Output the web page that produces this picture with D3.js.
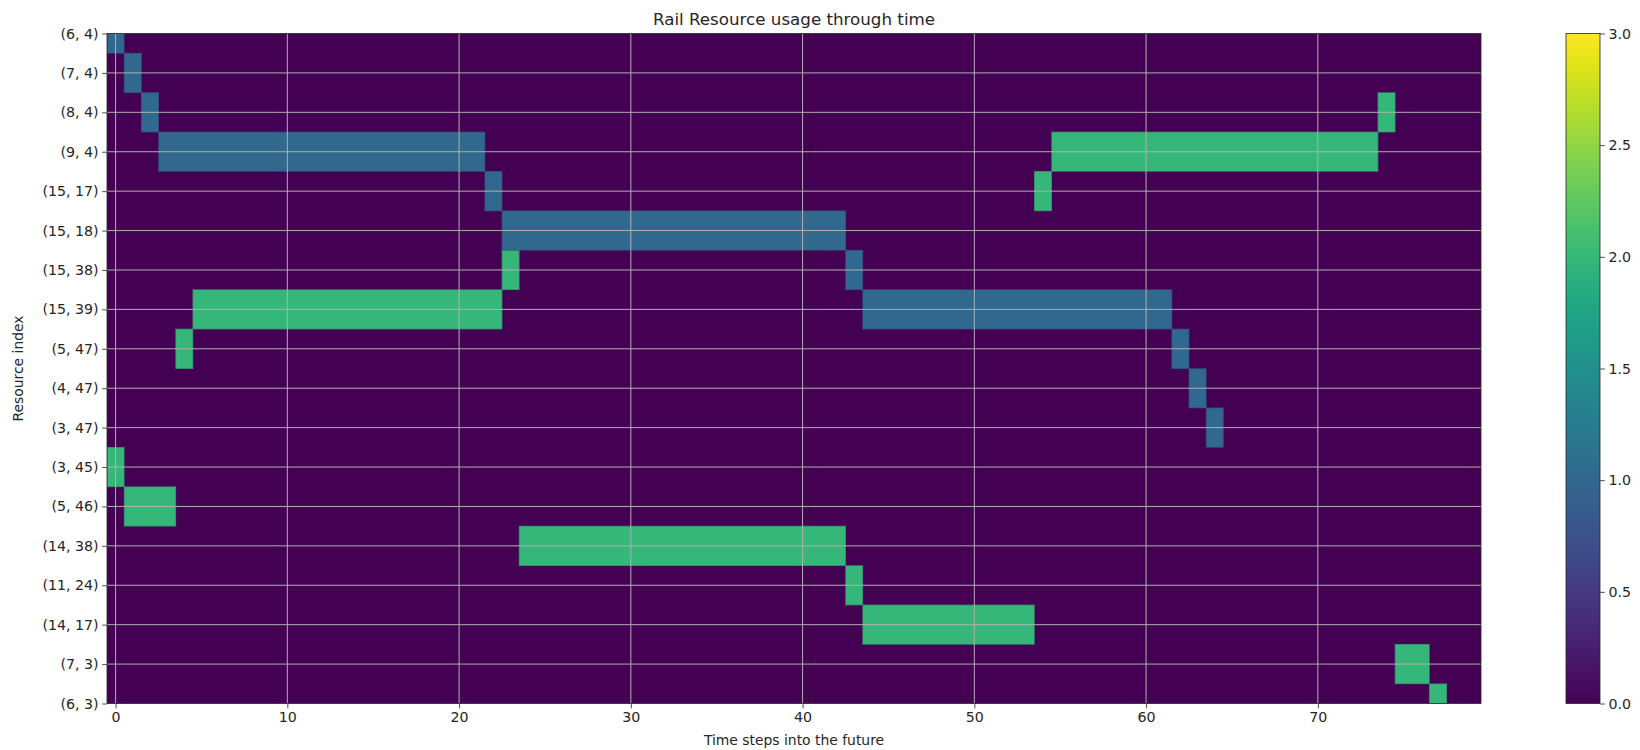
<!DOCTYPE html>
<html>
<head>
<meta charset="utf-8">
<script src="https://cdn.jsdelivr.net/npm/d3@7"></script>
<style>
  html, body { margin: 0; padding: 0; background: #ffffff; }
  svg { display: block; font-family: "DejaVu Sans", sans-serif; }
</style>
</head>
<body>
<svg id="chart" width="1640" height="750"></svg>
<script>
// Resource (rail cell) identifiers, top to bottom
const resources = ["(6, 4)", "(7, 4)", "(8, 4)", "(9, 4)", "(15, 17)", "(15, 18)",
  "(15, 38)", "(15, 39)", "(5, 47)", "(4, 47)", "(3, 47)", "(3, 45)",
  "(5, 46)", "(14, 38)", "(11, 24)", "(14, 17)", "(7, 3)", "(6, 3)"];

// Number of time steps shown
const timeSteps = 80;

// Occupation by train 1 (value 1): [resource row, first step, last step]
const train1Usage = [
  [0, 0, 0], [1, 1, 1], [2, 2, 2], [3, 3, 21], [4, 22, 22], [5, 23, 42],
  [6, 43, 43], [7, 44, 61], [8, 62, 62], [9, 63, 63], [10, 64, 64]
];

// Occupation by train 2 (value 2): [resource row, first step, last step]
const train2Usage = [
  [11, 0, 0], [12, 1, 3], [8, 4, 4], [7, 5, 22], [6, 23, 23], [13, 24, 42],
  [14, 43, 43], [15, 44, 53], [4, 54, 54], [3, 55, 73], [2, 74, 74],
  [16, 75, 76], [17, 77, 77]
];

const xTicks = [0, 10, 20, 30, 40, 50, 60, 70];
const colorTicks = [0, 0.5, 1, 1.5, 2, 2.5, 3];
const colorDomain = [0, 3];

(function () {
  // Build the resource x time matrix
  const grid = resources.map(() => new Array(timeSteps).fill(0));
  const runs = [];
  [[train1Usage, 1], [train2Usage, 2]].forEach(([list, v]) => {
    list.forEach(([r, s, e]) => {
      runs.push({ r, s, e, v });
      for (let t = s; t <= e; t++) grid[r][t] = v;
    });
  });
  const cells = [];
  grid.forEach((row, r) => row.forEach((v, t) => cells.push({ r, t, v })));

  const svg = d3.select("#chart");
  const pLeft = 107, pRight = 1481, pTop = 33.5, pBottom = 703.5;

  const x = d3.scaleLinear().domain([-0.5, timeSteps - 0.5]).range([pLeft, pRight]);
  const y = d3.scaleLinear().domain([0, resources.length - 1]).range([pTop, pBottom]);
  const color = d3.scaleSequential(d3.interpolateViridis).domain(colorDomain);

  const defs = svg.append("defs");
  defs.append("clipPath").attr("id", "plotClip")
    .append("rect").attr("x", pLeft).attr("y", pTop)
    .attr("width", pRight - pLeft).attr("height", pBottom - pTop);

  const plot = svg.append("g").attr("clip-path", "url(#plotClip)");

  // Heatmap cells
  plot.selectAll("rect.cell").data(cells).join("rect")
    .attr("class", "cell")
    .attr("x", d => x(d.t - 0.5))
    .attr("width", d => x(d.t + 0.5) - x(d.t - 0.5))
    .attr("y", d => y(d.r - 0.5))
    .attr("height", d => y(d.r + 0.5) - y(d.r - 0.5))
    .attr("fill", d => color(d.v))
    .attr("shape-rendering", "crispEdges");

  // Soft outline around each occupied block
  plot.selectAll("rect.edge").data(runs).join("rect")
    .attr("class", "edge")
    .attr("x", d => x(d.s - 0.5))
    .attr("width", d => x(d.e + 0.5) - x(d.s - 0.5))
    .attr("y", d => y(d.r - 0.5))
    .attr("height", d => y(d.r + 0.5) - y(d.r - 0.5))
    .attr("fill", "none")
    .attr("stroke", d => d3.interpolateRgb(color(d.v), color(0))(0.3))
    .attr("stroke-width", 0.8);

  // Grid lines
  plot.selectAll("line.vgrid").data(xTicks).join("line")
    .attr("class", "vgrid")
    .attr("x1", d => x(d)).attr("x2", d => x(d))
    .attr("y1", pTop).attr("y2", pBottom)
    .attr("stroke", "#b0b0b0").attr("stroke-width", 1);
  plot.selectAll("line.hgrid").data(resources.map((_, i) => i)).join("line")
    .attr("class", "hgrid")
    .attr("y1", d => y(d)).attr("y2", d => y(d))
    .attr("x1", pLeft).attr("x2", pRight)
    .attr("stroke", "#b0b0b0").attr("stroke-width", 1);

  // Axes
  const xAxis = d3.axisBottom(x).tickValues(xTicks).tickSize(4.9).tickPadding(3.5);
  const gx = svg.append("g").attr("transform", `translate(0,${pBottom})`).call(xAxis);
  const yAxis = d3.axisLeft(y).tickValues(resources.map((_, i) => i))
    .tickFormat(i => resources[i]).tickSize(4.9).tickPadding(3.5);
  const gy = svg.append("g").attr("transform", `translate(${pLeft},0)`).call(yAxis);
  [gx, gy].forEach(g => {
    g.select(".domain").remove();
    g.selectAll("text").attr("font-size", 14.2).attr("fill", "#262626")
      .attr("font-family", "DejaVu Sans, sans-serif");
    g.selectAll("line").attr("stroke", "#262626").attr("stroke-width", 0.8);
  });

  // Frame
  svg.append("rect").attr("x", pLeft).attr("y", pTop)
    .attr("width", pRight - pLeft).attr("height", pBottom - pTop)
    .attr("fill", "none").attr("stroke", "#262626").attr("stroke-width", 0.8);

  // Titles
  svg.append("text").attr("x", (pLeft + pRight) / 2).attr("y", 25)
    .attr("text-anchor", "middle").attr("font-size", 16.7).attr("fill", "#262626")
    .text("Rail Resource usage through time");
  svg.append("text").attr("x", (pLeft + pRight) / 2).attr("y", 745)
    .attr("text-anchor", "middle").attr("font-size", 13.9).attr("fill", "#262626")
    .text("Time steps into the future");
  svg.append("text")
    .attr("transform", `translate(23,${(pTop + pBottom) / 2}) rotate(-90)`)
    .attr("text-anchor", "middle").attr("font-size", 13.9).attr("fill", "#262626")
    .text("Resource index");

  // Colorbar
  const cbLeft = 1566, cbRight = 1600;
  const cy = d3.scaleLinear().domain(colorDomain).range([pBottom, pTop]);
  const grad = defs.append("linearGradient").attr("id", "viridisGrad")
    .attr("x1", 0).attr("y1", 1).attr("x2", 0).attr("y2", 0);
  d3.range(0, 1.0001, 0.05).forEach(p => {
    grad.append("stop").attr("offset", p)
      .attr("stop-color", color(colorDomain[0] + p * (colorDomain[1] - colorDomain[0])));
  });
  svg.append("rect").attr("x", cbLeft).attr("y", pTop)
    .attr("width", cbRight - cbLeft).attr("height", pBottom - pTop)
    .attr("fill", "url(#viridisGrad)").attr("stroke", "#262626").attr("stroke-width", 0.8);
  const cAxis = d3.axisRight(cy).tickValues(colorTicks).tickFormat(d3.format(".1f"))
    .tickSize(4.9).tickPadding(3.5);
  const gc = svg.append("g").attr("transform", `translate(${cbRight},0)`).call(cAxis);
  gc.select(".domain").remove();
  gc.selectAll("text").attr("font-size", 14.2).attr("fill", "#262626")
    .attr("font-family", "DejaVu Sans, sans-serif");
  gc.selectAll("line").attr("stroke", "#262626").attr("stroke-width", 0.8);
})();
</script>
</body>
</html>
